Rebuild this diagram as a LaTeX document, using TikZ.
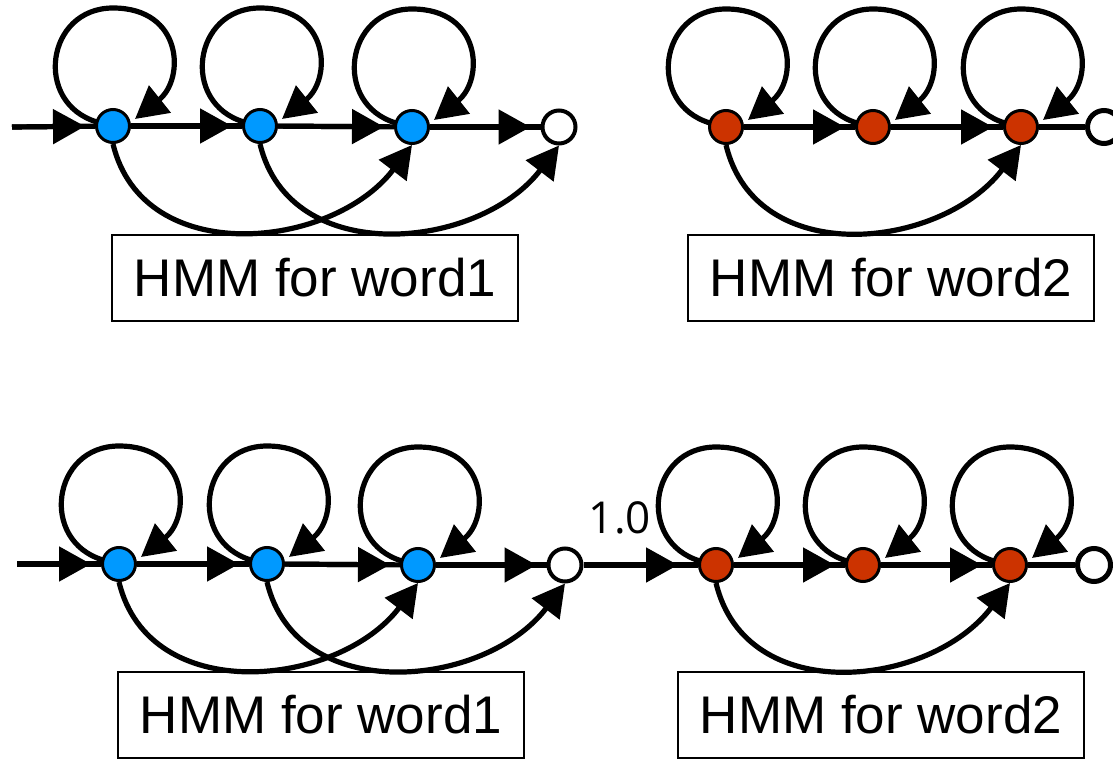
\documentclass[tikz,border=0pt]{standalone}
\usepackage{fontspec}
\setmainfont{Liberation Sans}
\newfontfamily\probfont{Open Sans}
\definecolor{hmmblue}{RGB}{0,153,255}
\definecolor{hmmred}{RGB}{204,51,0}
\usetikzlibrary{arrows.meta,calc}

\begin{document}
\begin{tikzpicture}[x=0.5pt, y=-0.5pt, >={Triangle[length=16pt, width=17pt]},
    bstate/.style={circle, draw, line width=1.5pt, fill=hmmblue,
                   minimum size=16.5pt, inner sep=0pt},
    rstate/.style={bstate, fill=hmmred},
    wstate/.style={bstate, fill=white, line width=2pt},
    estate/.style={bstate, fill=white, line width=2.5pt},
    trans/.style={line width=2.6pt},
    fwd/.style={trans, postaction={draw, ->, shorten >=5pt}},
    namebox/.style={rectangle, draw, line width=1pt, minimum width=203pt,
                    minimum height=43pt, font=\fontsize{26.5}{30}\selectfont}]

    \useasboundingbox (0,0) rectangle (1113,759);

    % Top: word1
    \coordinate (in1) at (12,127);
    \node[bstate] (b1) at (113,126) {};
    \node[bstate] (b2) at (260,126) {};
    \node[bstate] (b3) at (412,127) {};
    \node[wstate] (w1) at (559,127) {};
    \node[namebox] (box1) at (315,278) {HMM for word1};

    % Top: word2
    \node[rstate] (r1) at (726,127) {};
    \node[rstate] (r2) at (873,127) {};
    \node[rstate] (r3) at (1021,127) {};
    \node[estate] (e1) at (1104,127) {};
    \node[namebox] (box2) at (891,278) {HMM for word2};

    % Bottom: word1 + word2
    \coordinate (in2) at (17,564);
    \node[bstate] (cb1) at (119,564) {};
    \node[bstate] (cb2) at (267,564) {};
    \node[bstate] (cb3) at (418,565) {};
    \node[wstate] (cw) at (565,565) {};
    \node[rstate] (cr1) at (716,565) {};
    \node[rstate] (cr2) at (863,565) {};
    \node[rstate] (cr3) at (1010,565) {};
    \node[estate] (ce) at (1094,565) {};
    \node[namebox] (box3) at (321,715) {HMM for word1};
    \node[namebox] (box4) at (881,715) {HMM for word2};
    \node[font=\probfont\fontsize{22}{24}\selectfont] (p10) at (620,518) {1.0};

    % Forward arrows
    \draw[fwd] (in1) -- (b1);
    \draw[fwd] (b1) -- (b2);
    \draw[fwd] (b2) -- (b3);
    \draw[fwd] (b3) -- (w1);
    \draw[fwd] (r1) -- (r2);
    \draw[fwd] (r2) -- (r3);
    \draw[trans] (r3) -- (e1);
    \draw[fwd] (in2) -- (cb1);
    \draw[fwd] (cb1) -- (cb2);
    \draw[fwd] (cb2) -- (cb3);
    \draw[fwd] (cb3) -- (cw);
    \draw[trans, postaction={draw, ->, shorten >=10pt}] (cw) -- (cr1);
    \draw[fwd] (cr1) -- (cr2);
    \draw[fwd] (cr2) -- (cr3);
    \draw[trans] (cr3) -- (ce);

    % Self loops
    \foreach \s in {b1,b2,b3,r1,r2,r3,cb1,cb2,cb3,cr1,cr2,cr3}
        \draw[->, trans] ($(\s)+(-16,-4)$) .. controls +(-64,-19) and +(-67,0) .. ($(\s)+(0,-118)$)
                         .. controls +(70,0) and +(50,-40) .. ($(\s)+(22,-7)$);

    % Skip arrows
    \draw[->, trans] (b1.south) .. controls +(30,125) and +(-80,105) .. (b3.south);
    \draw[->, trans] (b2.south) .. controls +(30,125) and +(-80,105) .. (w1.south);
    \draw[->, trans] (r1.south) .. controls +(30,125) and +(-80,105) .. (r3.south);
    \draw[->, trans] (cb1.south) .. controls +(30,125) and +(-80,105) .. (cb3.south);
    \draw[->, trans] (cb2.south) .. controls +(30,125) and +(-80,105) .. (cw.south);
    \draw[->, trans] (cr1.south) .. controls +(30,125) and +(-80,105) .. (cr3.south);
\end{tikzpicture}
\end{document}
